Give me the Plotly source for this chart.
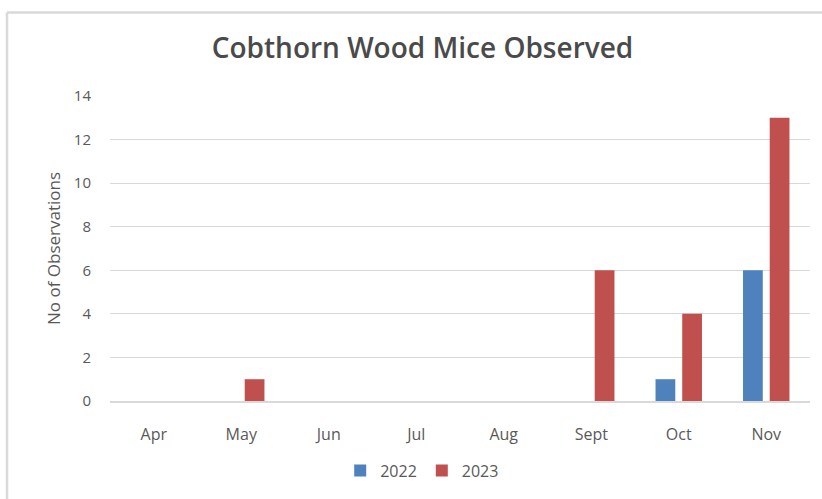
import plotly.graph_objects as go

# Monthly wood mouse sightings at Cobthorn Wood
months = ["Apr", "May", "Jun", "Jul", "Aug", "Sept", "Oct", "Nov"]
obs_2022 = [0, 0, 0, 0, 0, 0, 1, 6]
obs_2023 = [0, 1, 0, 0, 0, 6, 4, 13]
y_ticks = [0, 2, 4, 6, 8, 10, 12, 14]

BLUE = "#4F81BD"
RED = "#C0504D"
TEXT = "#595959"
GRID = "#D9D9D9"
FONT = "'Open Sans', Lato, sans-serif"

W, H = 822, 499
L, R, T, B = 110, 12, 96, 96
plot_w = W - L - R
plot_h = H - T - B

fig = go.Figure()
fig.add_trace(go.Bar(x=months, y=obs_2022, name="2022", marker=dict(color=BLUE, line=dict(width=0))))
fig.add_trace(go.Bar(x=months, y=obs_2023, name="2023", marker=dict(color=RED, line=dict(width=0))))


def px_to_paper_x(px):
    return (px - L) / plot_w


def px_to_paper_y(py):
    return (H - B - py) / plot_h


# Outer chart frame (top and left edges fall inside the view)
frame_left, frame_top = 7, 12
fig.add_shape(type="line", xref="paper", yref="paper",
              x0=px_to_paper_x(frame_left), x1=px_to_paper_x(W + 10),
              y0=px_to_paper_y(frame_top), y1=px_to_paper_y(frame_top),
              line=dict(color=GRID, width=2.5))
fig.add_shape(type="line", xref="paper", yref="paper",
              x0=px_to_paper_x(frame_left), x1=px_to_paper_x(frame_left),
              y0=px_to_paper_y(frame_top), y1=px_to_paper_y(H + 10),
              line=dict(color=GRID, width=2.5))

fig.update_layout(
    width=W, height=H,
    margin=dict(l=L, r=R, t=T, b=B),
    paper_bgcolor="white", plot_bgcolor="white",
    font=dict(family=FONT, color=TEXT, size=15),
    title=dict(text="Cobthorn Wood Mice Observed", x=0.514, xanchor="center",
               y=1 - 48 / H, yanchor="middle",
               font=dict(size=28, color="#4a4a4a", family=FONT, weight=600)),
    barmode="group", bargap=0.39, bargroupgap=0.26,
    showlegend=True,
    legend=dict(orientation="h", x=0.446, xanchor="center",
                y=px_to_paper_y(473), yanchor="middle",
                font=dict(size=16, color=TEXT), itemwidth=30,
                traceorder="normal"),
    xaxis=dict(showgrid=False, showline=True, linecolor=GRID, linewidth=1.5,
               ticks="", tickfont=dict(size=16, color=TEXT), ticklabelstandoff=18),
    yaxis=dict(range=[0, 14], tickvals=y_ticks, showgrid=True, gridcolor=GRID,
               gridwidth=1.2, zeroline=False, showline=False, ticks="",
               tickfont=dict(size=15, color=TEXT), ticklabelstandoff=18,
               title=dict(text="No of Observations", font=dict(size=17, color=TEXT),
                          standoff=8)),
)

fig.write_html("out.html")
